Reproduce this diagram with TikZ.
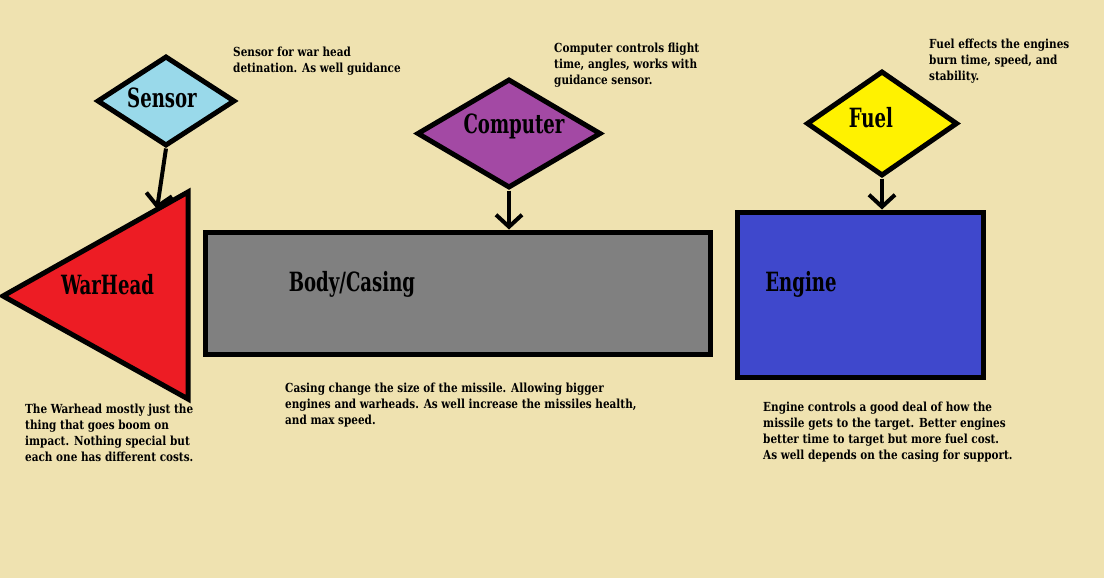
\documentclass[tikz,border=0pt]{standalone}
\usepackage{fontspec}
\usetikzlibrary{arrows.meta,shapes.geometric}
% heavy condensed serif for all text
\newfontfamily\descfont{DejaVuSerifCondensed-Bold.ttf}[FakeStretch=0.93]
\newfontfamily\labelfont{DejaVuSerifCondensed-Bold.ttf}[FakeStretch=0.76]

\definecolor{paper}{RGB}{239,226,176}
\definecolor{sensorblue}{RGB}{153,217,234}
\definecolor{warred}{RGB}{237,28,36}
\definecolor{bodygray}{RGB}{128,128,128}
\definecolor{comppurple}{RGB}{163,73,164}
\definecolor{fuelyellow}{RGB}{255,242,0}
\definecolor{engineblue}{RGB}{63,72,204}

\tikzset{
  part/.style={draw=black, line width=5pt, inner sep=0pt},
  decision/.style={part, diamond},
  block/.style={part, rectangle},
  partlabel/.style={font=\labelfont\fontsize{26.5}{26.5}\selectfont, anchor=base, inner sep=0pt},
  note/.style={font=\descfont\fontsize{12.5}{16}\selectfont, align=left, anchor=north west, inner sep=0pt},
  feed/.style={line width=4pt, -{Straight Barb[length=12pt,width=26pt,line width=4pt]}},
}

\begin{document}
\begin{tikzpicture}[x=1pt,y=-1pt]
  \fill[paper] (0,0) rectangle (1104,578);
  \useasboundingbox (0,0) rectangle (1104,578);

  % components
  \node[decision, fill=sensorblue, minimum width=138pt, minimum height=90pt] (sensor) at (166,101) {};
  \node[decision, fill=comppurple, minimum width=184pt, minimum height=109pt] (computer) at (509,133.5) {};
  \node[decision, fill=fuelyellow, minimum width=151pt, minimum height=105pt] (fuel) at (882,123.5) {};
  \node[block, fill=bodygray, minimum width=505pt, minimum height=122pt] (body) at (457.5,293) {};
  \node[block, fill=engineblue, minimum width=246pt, minimum height=165pt] (engine) at (860,294.5) {};

  % warhead cone
  \coordinate (whtip) at (3,296);
  \coordinate (whtop) at (188,192);
  \coordinate (whbot) at (188,399);
  \coordinate (whhit) at (157,209);
  \draw[fill=warred, line width=5pt, line join=miter] (whtip) -- (whtop) -- (whbot) -- cycle;

  % labels
  \node[partlabel] (sensorlbl) at (162,107) {Sensor};
  \node[partlabel] (complbl) at (514,133) {Computer};
  \node[partlabel] (fuellbl) at (871,128) {Fuel};
  \node[partlabel] (bodylbl) at (352,291) {Body/Casing};
  \node[partlabel] (enginelbl) at (801,291) {Engine};
  \node[partlabel] (whlbl) at (107.5,294) {WarHead};

  % connections
  \draw[feed] (sensor.south) -- (whhit);
  \draw[feed] (computer.south) -- (computer.south |- body.north);
  \draw[feed] (fuel.south) -- (fuel.south |- engine.north);

  % notes
  \node[note] (sensornote) at (233,47) {Sensor for war head\\detination. As well guidance};
  \node[note] (compnote) at (554,43) {Computer controls flight\\time, angles, works with\\guidance sensor.};
  \node[note] (fuelnote) at (929,39) {Fuel effects the engines\\burn time, speed, and\\stability.};
  \node[note] (whnote) at (25,404) {The Warhead mostly just the\\thing that goes boom on\\impact. Nothing special but\\each one has different costs.};
  \node[note] (bodynote) at (285,383) {Casing change the size of the missile. Allowing bigger\\engines and warheads. As well increase the missiles health,\\and max speed.};
  \node[note] (enginenote) at (763,402) {Engine controls a good deal of how the\\missile gets to the target. Better engines\\better time to target but more fuel cost.\\As well depends on the casing for support.};
\end{tikzpicture}
\end{document}
